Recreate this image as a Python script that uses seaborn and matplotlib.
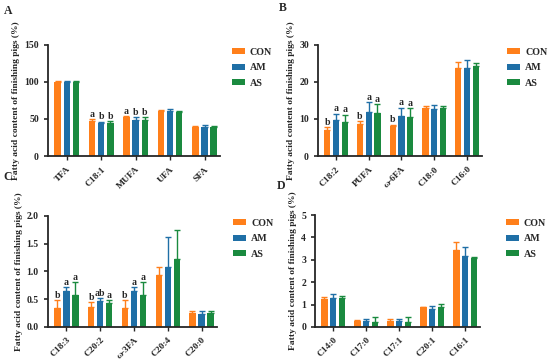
import pandas as pd
import numpy as np
import matplotlib
matplotlib.use("Agg")
import matplotlib.pyplot as plt
import seaborn as sns

GROUPS = ["CON", "AM", "AS"]
COLORS = ["#FF7F1A", "#1F6FA6", "#1A8A3F"]

# Panel A
a_cats = ["TFA", "C18:1", "MUFA", "UFA", "SFA"]
a_con = [100, 47.5, 52, 61, 38.5]
a_am = [100, 45, 49, 61, 38.5]
a_as = [100, 44.5, 48.5, 60, 39]
a_con_err = [0.8, 2, 2, 1.5, 2.5]
a_am_err = [0.8, 1.5, 3, 2.5, 3]
a_as_err = [0.8, 2.5, 4, 1, 1]
a_letters = [["", "a", "a", "", ""], ["", "b", "b", "", ""], ["", "b", "b", "", ""]]

# Panel B
b_cats = ["C18:2", "PUFA", "ω-6FA", "C18:0", "C16:0"]
b_con = [7.0, 8.7, 8.0, 12.9, 23.8]
b_am = [9.6, 11.8, 10.7, 12.7, 23.7]
b_as = [9.3, 11.5, 10.5, 13.0, 24.4]
b_con_err = [0.8, 0.7, 0.5, 0.7, 1.7]
b_am_err = [1.8, 2.7, 2.3, 1.1, 2.2]
b_as_err = [1.9, 2.5, 2.4, 0.4, 0.6]
b_letters = [["b", "b", "b", "", ""], ["a", "a", "a", "", ""], ["a", "a", "a", "", ""]]

# Panel C
c_cats = ["C18:3", "C20:2", "ω-3FA", "C20:4", "C20:0"]
c_con = [0.34, 0.35, 0.34, 0.94, 0.25]
c_am = [0.65, 0.46, 0.65, 1.08, 0.24]
c_as = [0.58, 0.43, 0.58, 1.23, 0.25]
c_con_err = [0.14, 0.09, 0.14, 0.14, 0.03]
c_am_err = [0.07, 0.06, 0.07, 0.53, 0.04]
c_as_err = [0.23, 0.05, 0.23, 0.51, 0.03]
c_letters = [["b", "b", "b", "", ""], ["a", "ab", "a", "", ""], ["a", "a", "a", "", ""]]

# Panel D
d_cats = ["C14:0", "C17:0", "C17:1", "C20:1", "C16:1"]
d_con = [1.25, 0.25, 0.26, 0.88, 3.43]
d_am = [1.30, 0.28, 0.27, 0.82, 3.18]
d_as = [1.27, 0.22, 0.22, 0.90, 3.10]
d_con_err = [0.08, 0.07, 0.08, 0.03, 0.38]
d_am_err = [0.17, 0.06, 0.08, 0.10, 0.38]
d_as_err = [0.10, 0.22, 0.22, 0.12, 0.04]
d_letters = [["", "", "", "", ""], ["", "", "", "", ""], ["", "", "", "", ""]]

SERIF = "Liberation Serif"
W, H = 550, 362


def panel(ax, cats, vals, errs, letters, yticks, fmt, letter_pad, leg_xy):
    df = pd.DataFrame({
        "cat": cats * 3,
        "group": [g for g in GROUPS for _ in cats],
        "value": vals[0] + vals[1] + vals[2],
    })
    sns.barplot(data=df, x="cat", y="value", hue="group", order=cats,
                hue_order=GROUPS, palette=COLORS, width=0.8, gap=0.3,
                errorbar=None, ax=ax, saturation=1, linewidth=0)
    bars = ax.patches[:15]
    for gi in range(3):
        for ci in range(len(cats)):
            p = bars[gi * len(cats) + ci]
            x = p.get_x() + p.get_width() / 2
            h = p.get_height()
            e = errs[gi][ci]
            ax.errorbar(x, h, yerr=[[0], [e]], fmt="none", ecolor=COLORS[gi],
                        elinewidth=1, capsize=2, capthick=1)
            if letters[gi][ci]:
                ax.text(x, h + e + letter_pad, letters[gi][ci], ha="center",
                        va="bottom", fontsize=7, fontweight="bold", family=SERIF)
    ax.set_xlim(-0.55, 4.45)
    ax.set_ylim(0, yticks[-1])
    ax.set_yticks(yticks)
    ax.set_yticklabels([fmt.format(t) for t in yticks])
    ax.set_xlabel("")
    ax.set_ylabel("Fatty acid content of finishing pigs (%)", fontsize=6.8,
                  fontweight="bold", family=SERIF, labelpad=3)
    ax.tick_params(axis="x", rotation=45, labelsize=6.8, width=1, length=3)
    ax.tick_params(axis="y", labelsize=7, width=1.2, length=3)
    for lab in ax.get_xticklabels():
        lab.set_ha("right")
        lab.set_rotation_mode("anchor")
    for lab in ax.get_xticklabels() + ax.get_yticklabels():
        lab.set_fontweight("bold")
        lab.set_family(SERIF)
    for s in ["left", "bottom"]:
        ax.spines[s].set_linewidth(1.3)
    sns.despine(ax=ax)
    ax.legend(loc="upper left", bbox_to_anchor=(leg_xy[0] / W, 1 - leg_xy[1] / H),
              bbox_transform=fig.transFigure, frameon=False, borderpad=0,
              borderaxespad=0, handlelength=1.3, handleheight=0.55,
              handletextpad=0.5, labelspacing=0.65,
              prop={"family": SERIF, "weight": "bold", "size": 7.2})


sns.set_style("ticks")
plt.rcParams["font.family"] = [SERIF, "DejaVu Sans"]

fig = plt.figure(figsize=(5.5, 3.62), dpi=100)
axA = fig.add_axes([0.087, 0.569, 0.313, 0.307])
axB = fig.add_axes([0.578, 0.569, 0.298, 0.307])
axC = fig.add_axes([0.087, 0.097, 0.307, 0.307])
axD = fig.add_axes([0.573, 0.097, 0.300, 0.309])

panel(axA, a_cats, [a_con, a_am, a_as], [a_con_err, a_am_err, a_as_err], a_letters,
      [0, 50, 100, 150], "{:.0f}", 0.5, (232, 48))
panel(axB, b_cats, [b_con, b_am, b_as], [b_con_err, b_am_err, b_as_err], b_letters,
      [0, 10, 20, 30], "{:.0f}", 0.1, (507, 48))
panel(axC, c_cats, [c_con, c_am, c_as], [c_con_err, c_am_err, c_as_err], c_letters,
      [0, 0.5, 1.0, 1.5, 2.0], "{:.1f}", 0.0, (233, 219))
panel(axD, d_cats, [d_con, d_am, d_as], [d_con_err, d_am_err, d_as_err], d_letters,
      [0, 1, 2, 3, 4, 5], "{:.0f}", 0.0, (506, 219))

for lbl, x, y in [("A", 8, 11), ("B", 283, 8), ("C", 8, 177), ("D", 281, 186)]:
    fig.text(x / W, 1 - y / H, lbl, fontsize=8.5, fontweight="bold",
             family=SERIF, va="center", ha="center")

fig.savefig("out.png", dpi=100)
